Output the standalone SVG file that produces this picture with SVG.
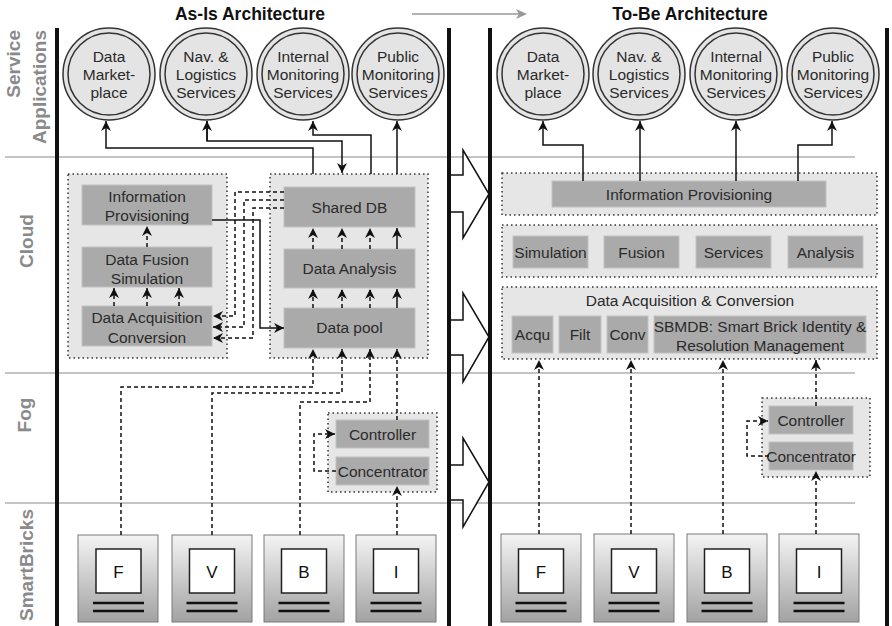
<svg xmlns="http://www.w3.org/2000/svg" width="892" height="626" viewBox="0 0 892 626">
<defs>
<style>
text{font-family:"Liberation Sans",Arial,sans-serif}
.title{font-size:17.5px;font-weight:bold;fill:#111;text-anchor:middle}
.lane{font-size:19px;font-weight:bold;fill:#8a8a8a}
.t{font-size:15.5px;fill:#2a2a2a;text-anchor:middle}
.lt{font-size:17px;fill:#111;text-anchor:middle}
.box{fill:#aaaaaa;stroke:#c2c2c2;stroke-width:1}
.cont{fill:#e6e6e6;stroke:#333;stroke-width:1.5;stroke-dasharray:1.5 3}
.co{fill:#e4e4e4;stroke:#333;stroke-width:1.5}
.ci{fill:none;stroke:#333;stroke-width:1.5}
.c{stroke:#111;stroke-width:1.5;fill:none}
.d{stroke-dasharray:4 3}
.a{marker-end:url(#ah)}
.sep{stroke:#b0b0b0;stroke-width:1.5}
.bar{stroke:#111;stroke-width:4}
.brick{fill:url(#bg);stroke:#7a7a7a;stroke-width:1}
.sq{fill:#fff;stroke:#222;stroke-width:1.5}
.bl{stroke:#111;stroke-width:2.5}
.big{fill:#fff;stroke:#111;stroke-width:1.5}
</style>
<marker id="ah" viewBox="0 0 10 10" refX="10" refY="5" markerWidth="10" markerHeight="10" markerUnits="userSpaceOnUse" orient="auto"><path d="M0,0 L10,5 L0,10 L3,5 z" fill="#111"/></marker>
<linearGradient id="bg" x1="0" y1="0" x2="0" y2="1"><stop offset="0" stop-color="#f4f4f4"/><stop offset="1" stop-color="#a2a2a2"/></linearGradient>
</defs>
<rect width="892" height="626" fill="#fff"/>

<!-- titles -->
<text class="title" x="250" y="20">As-Is Architecture</text>
<text class="title" x="690" y="20">To-Be Architecture</text>
<line x1="412" y1="14" x2="520" y2="14" stroke="#999" stroke-width="1.5"/>
<path d="M516,9 L527,14 L516,19 L519,14 z" fill="#999"/>

<!-- lane separators -->
<line class="sep" x1="5" y1="157" x2="855" y2="157"/>
<line class="sep" x1="5" y1="373" x2="855" y2="373"/>
<line class="sep" x1="5" y1="503" x2="855" y2="503"/>

<!-- lane labels -->
<text class="lane" transform="translate(20,30) rotate(-90)" text-anchor="end">Service</text>
<text class="lane" transform="translate(46,30) rotate(-90)" text-anchor="end">Applications</text>
<text class="lane" transform="translate(33,241) rotate(-90)" text-anchor="middle">Cloud</text>
<text class="lane" transform="translate(31,415) rotate(-90)" text-anchor="middle">Fog</text>
<text class="lane" transform="translate(33,565) rotate(-90)" text-anchor="middle">SmartBricks</text>

<!-- transition arrows -->
<g id="transition-arrows">
<polygon class="big" points="449,175 463,175 463,150 489,194 463,238 463,212 449,212"/>
<polygon class="big" points="449,320 463,320 463,293 489,337 463,382 463,355 449,355"/>
<polygon class="big" points="449,465 463,465 463,438 489,482 463,527 463,500 449,500"/>
</g>

<!-- panel bars -->
<line class="bar" x1="57" y1="28" x2="57" y2="626"/>
<line class="bar" x1="449" y1="28" x2="449" y2="626"/>
<line class="bar" x1="490" y1="28" x2="490" y2="626"/>
<line class="bar" x1="887" y1="28" x2="887" y2="626"/>

<!-- ===== AS-IS ===== -->
<g id="asis-data-marketplace">
<circle class="co" cx="109" cy="74" r="46"/><circle class="ci" cx="109" cy="74" r="41"/>
<text class="t" x="109" y="62">Data</text><text class="t" x="109" y="80">Market-</text><text class="t" x="109" y="98">place</text>
</g>
<g id="asis-nav-logistics">
<circle class="co" cx="206" cy="74" r="46"/><circle class="ci" cx="206" cy="74" r="41"/>
<text class="t" x="206" y="62">Nav. &amp;</text><text class="t" x="206" y="80">Logistics</text><text class="t" x="206" y="98">Services</text>
</g>
<g id="asis-internal-monitoring">
<circle class="co" cx="303" cy="74" r="46"/><circle class="ci" cx="303" cy="74" r="41"/>
<text class="t" x="303" y="62">Internal</text><text class="t" x="303" y="80">Monitoring</text><text class="t" x="303" y="98">Services</text>
</g>
<g id="asis-public-monitoring">
<circle class="co" cx="398" cy="74" r="46"/><circle class="ci" cx="398" cy="74" r="41"/>
<text class="t" x="398" y="62">Public</text><text class="t" x="398" y="80">Monitoring</text><text class="t" x="398" y="98">Services</text>
</g>

<g id="asis-cloud-left">
<rect class="cont" x="68" y="174" width="159" height="184"/>
</g>
<g id="asis-info-prov">
<rect class="box" x="82" y="185" width="130" height="40"/>
<text class="t" x="147" y="202">Information</text><text class="t" x="147" y="221">Provisioning</text>
</g>
<g id="asis-fusion">
<rect class="box" x="82" y="247" width="130" height="40"/>
<text class="t" x="147" y="265">Data Fusion</text><text class="t" x="147" y="284">Simulation</text>
</g>
<g id="asis-acquisition">
<rect class="box" x="82" y="306" width="130" height="40"/>
<text class="t" x="147" y="323">Data Acquisition</text><text class="t" x="147" y="343">Conversion</text>
</g>

<g id="asis-cloud-right">
<rect class="cont" x="270" y="174" width="158" height="184"/>
</g>
<g id="asis-shared-db">
<rect class="box" x="284" y="187" width="131" height="40"/>
<text class="t" x="349.5" y="212.5">Shared DB</text>
</g>
<g id="asis-analysis">
<rect class="box" x="284" y="249" width="131" height="39"/>
<text class="t" x="349.5" y="274">Data Analysis</text>
</g>
<g id="asis-pool">
<rect class="box" x="284" y="308" width="131" height="40"/>
<text class="t" x="349.5" y="333">Data pool</text>
</g>

<g id="asis-fog">
<rect class="cont" x="328" y="413" width="109" height="79"/>
</g>
<g id="asis-controller">
<rect class="box" x="336" y="420" width="93" height="28"/>
<text class="t" x="382.5" y="439.5">Controller</text>
</g>
<g id="asis-concentrator">
<rect class="box" x="336" y="457" width="93" height="28"/>
<text class="t" x="382.5" y="476.5">Concentrator</text>
</g>

<g id="asis-brick-f">
<rect class="brick" x="78" y="535" width="80" height="87"/>
<rect class="sq" x="96" y="549" width="45" height="44"/>
<text class="lt" x="118.5" y="578">F</text>
<line class="bl" x1="93" y1="603" x2="144" y2="603"/><line class="bl" x1="93" y1="611" x2="144" y2="611"/>
</g>
<g id="asis-brick-v">
<rect class="brick" x="172" y="535" width="80" height="87"/>
<rect class="sq" x="189.5" y="549" width="45" height="44"/>
<text class="lt" x="212" y="578">V</text>
<line class="bl" x1="186.5" y1="603" x2="237.5" y2="603"/><line class="bl" x1="186.5" y1="611" x2="237.5" y2="611"/>
</g>
<g id="asis-brick-b">
<rect class="brick" x="264" y="535" width="80" height="87"/>
<rect class="sq" x="281.5" y="549" width="45" height="44"/>
<text class="lt" x="304" y="578">B</text>
<line class="bl" x1="278.5" y1="603" x2="329.5" y2="603"/><line class="bl" x1="278.5" y1="611" x2="329.5" y2="611"/>
</g>
<g id="asis-brick-i">
<rect class="brick" x="356" y="535" width="80" height="87"/>
<rect class="sq" x="373.5" y="549" width="45" height="44"/>
<text class="lt" x="396" y="578">I</text>
<line class="bl" x1="370.5" y1="603" x2="421.5" y2="603"/><line class="bl" x1="370.5" y1="611" x2="421.5" y2="611"/>
</g>

<!-- ===== TO-BE ===== -->
<g id="tobe-data-marketplace">
<circle class="co" cx="543" cy="74" r="46"/><circle class="ci" cx="543" cy="74" r="41"/>
<text class="t" x="543" y="62">Data</text><text class="t" x="543" y="80">Market-</text><text class="t" x="543" y="98">place</text>
</g>
<g id="tobe-nav-logistics">
<circle class="co" cx="639" cy="74" r="46"/><circle class="ci" cx="639" cy="74" r="41"/>
<text class="t" x="639" y="62">Nav. &amp;</text><text class="t" x="639" y="80">Logistics</text><text class="t" x="639" y="98">Services</text>
</g>
<g id="tobe-internal-monitoring">
<circle class="co" cx="736" cy="74" r="46"/><circle class="ci" cx="736" cy="74" r="41"/>
<text class="t" x="736" y="62">Internal</text><text class="t" x="736" y="80">Monitoring</text><text class="t" x="736" y="98">Services</text>
</g>
<g id="tobe-public-monitoring">
<circle class="co" cx="833" cy="74" r="46"/><circle class="ci" cx="833" cy="74" r="41"/>
<text class="t" x="833" y="62">Public</text><text class="t" x="833" y="80">Monitoring</text><text class="t" x="833" y="98">Services</text>
</g>

<g id="tobe-info-prov">
<rect class="cont" x="502" y="173" width="375" height="42"/>
<rect class="box" x="552" y="181" width="274" height="26"/>
<text class="t" x="689" y="199.5">Information Provisioning</text>
</g>
<g id="tobe-services-layer">
<rect class="cont" x="502" y="225" width="375" height="52"/>
</g>
<g id="tobe-simulation">
<rect class="box" x="513" y="236" width="75" height="32"/>
<text class="t" x="550.5" y="257.5">Simulation</text>
</g>
<g id="tobe-fusion">
<rect class="box" x="604" y="236" width="75" height="32"/>
<text class="t" x="641.5" y="257.5">Fusion</text>
</g>
<g id="tobe-services">
<rect class="box" x="696" y="236" width="75" height="32"/>
<text class="t" x="733.5" y="257.5">Services</text>
</g>
<g id="tobe-analysis">
<rect class="box" x="788" y="236" width="75" height="32"/>
<text class="t" x="825.5" y="257.5">Analysis</text>
</g>
<g id="tobe-acquisition-layer">
<rect class="cont" x="502" y="287" width="375" height="72"/>
<text class="t" x="690" y="305.5">Data Acquisition &amp; Conversion</text>
</g>
<g id="tobe-acqu">
<rect class="box" x="512" y="316" width="41" height="37"/>
<text class="t" x="532.5" y="340">Acqu</text>
</g>
<g id="tobe-filt">
<rect class="box" x="559" y="316" width="42" height="37"/>
<text class="t" x="580" y="340">Filt</text>
</g>
<g id="tobe-conv">
<rect class="box" x="607" y="316" width="41" height="37"/>
<text class="t" x="627.5" y="340">Conv</text>
</g>
<g id="tobe-sbmdb">
<rect class="box" x="654" y="316" width="212" height="37"/>
<text class="t" x="760" y="332">SBMDB: Smart Brick Identity &amp;</text>
<text class="t" x="760" y="351">Resolution Management</text>
</g>

<g id="tobe-fog">
<rect class="cont" x="762" y="398" width="108" height="79"/>
</g>
<g id="tobe-controller">
<rect class="box" x="769" y="406" width="84" height="28"/>
<text class="t" x="811" y="425.5">Controller</text>
</g>
<g id="tobe-concentrator">
<rect class="box" x="769" y="442" width="84" height="28"/>
<text class="t" x="811" y="461.5">Concentrator</text>
</g>

<g id="tobe-brick-f">
<rect class="brick" x="501" y="534" width="80" height="88"/>
<rect class="sq" x="518.5" y="549" width="45" height="44"/>
<text class="lt" x="541" y="578">F</text>
<line class="bl" x1="515.5" y1="603" x2="566.5" y2="603"/><line class="bl" x1="515.5" y1="611" x2="566.5" y2="611"/>
</g>
<g id="tobe-brick-v">
<rect class="brick" x="594" y="534" width="80" height="88"/>
<rect class="sq" x="611.5" y="549" width="45" height="44"/>
<text class="lt" x="634" y="578">V</text>
<line class="bl" x1="608.5" y1="603" x2="659.5" y2="603"/><line class="bl" x1="608.5" y1="611" x2="659.5" y2="611"/>
</g>
<g id="tobe-brick-b">
<rect class="brick" x="687" y="534" width="80" height="88"/>
<rect class="sq" x="704.5" y="549" width="45" height="44"/>
<text class="lt" x="727" y="578">B</text>
<line class="bl" x1="701.5" y1="603" x2="752.5" y2="603"/><line class="bl" x1="701.5" y1="611" x2="752.5" y2="611"/>
</g>
<g id="tobe-brick-i">
<rect class="brick" x="779" y="534" width="80" height="88"/>
<rect class="sq" x="796.5" y="549" width="45" height="44"/>
<text class="lt" x="819" y="578">I</text>
<line class="bl" x1="793.5" y1="603" x2="844.5" y2="603"/><line class="bl" x1="793.5" y1="611" x2="844.5" y2="611"/>
</g>

<!-- ===== CONNECTORS ===== -->
<g id="connectors">
<!-- as-is: shared DB to apps -->
<path class="c a" d="M313,174 V148 H106 V121"/>
<path class="c a" d="M207,121 V141 H342 V173"/>
<path class="c a" d="M207,141 V121"/>
<path class="c a" d="M371,174 V135 H313 V121"/>
<path class="c a" d="M397,174 V121"/>
<!-- left cloud internal -->
<path class="c d a" d="M147,247 V226"/>
<path class="c d a" d="M114,306 V288"/>
<path class="c d a" d="M147,306 V288"/>
<path class="c d a" d="M179,306 V288"/>
<!-- shared DB to acquisition -->
<path class="c d a" d="M284,192 H235 V316 H213"/>
<path class="c d a" d="M284,200 H244 V327 H213"/>
<path class="c d a" d="M284,208 H253 V338 H213"/>
<!-- info prov to data pool -->
<path class="c a" d="M212,220 H260 V328 H284"/>
<!-- right cloud internal -->
<path class="c d a" d="M313,249 V228"/>
<path class="c d a" d="M342,249 V228"/>
<path class="c d a" d="M370,249 V228"/>
<path class="c a" d="M397,249 V228"/>
<path class="c d a" d="M313,308 V289"/>
<path class="c d a" d="M342,308 V289"/>
<path class="c d a" d="M370,308 V289"/>
<path class="c a" d="M397,308 V289"/>
<!-- fog / bricks to data pool -->
<path class="c d a" d="M121,535 V387 H313 V349"/>
<path class="c d a" d="M212,535 V393 H342 V349"/>
<path class="c d a" d="M300,535 V402 H370 V349"/>
<path class="c d a" d="M397,420 V349"/>
<path class="c d a" d="M397,535 V486"/>
<path class="c d a" d="M336,471 H314 V434 H335"/>

<!-- to-be: info prov to apps -->
<path class="c a" d="M583,181 V145 H543 V121"/>
<path class="c a" d="M640,181 V121"/>
<path class="c a" d="M736,181 V121"/>
<path class="c a" d="M798,181 V145 H832 V121"/>
<!-- to-be fog -->
<path class="c d a" d="M539,534 V360"/>
<path class="c d a" d="M631,534 V360"/>
<path class="c d a" d="M723,534 V360"/>
<path class="c d a" d="M816,406 V360"/>
<path class="c d a" d="M816,534 V471"/>
<path class="c d a" d="M769,456 H747 V421 H768"/>
</g>
</svg>
